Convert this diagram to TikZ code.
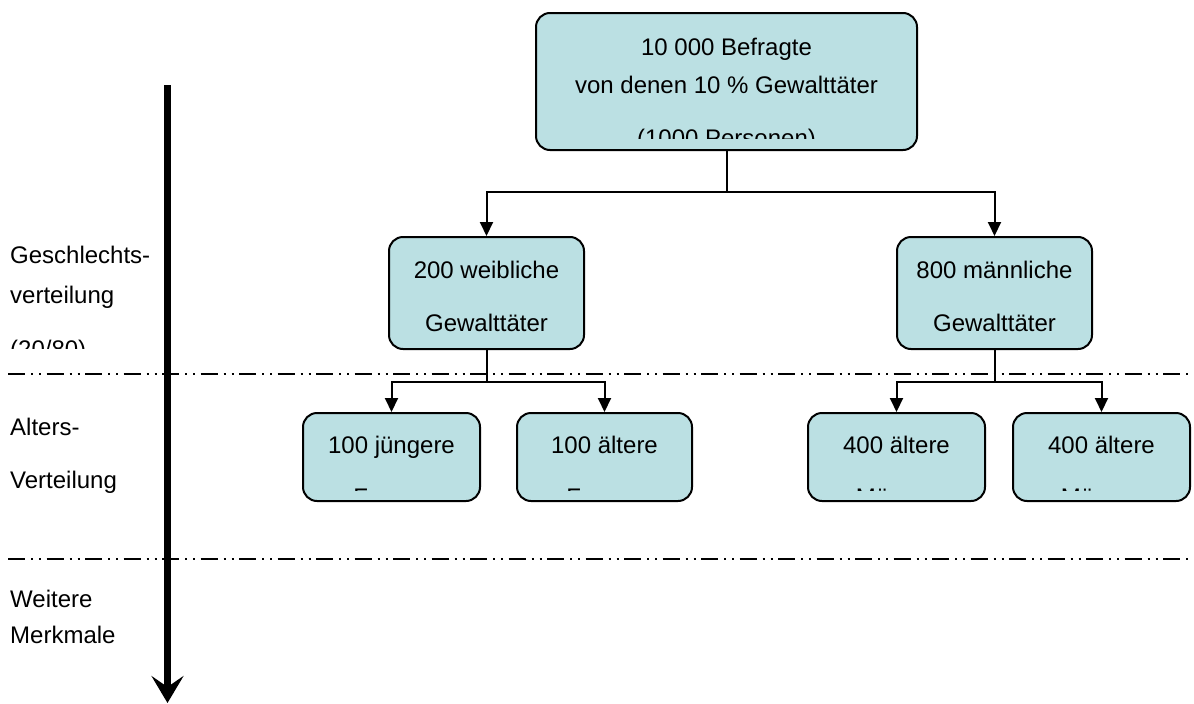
\documentclass[tikz,border=0pt]{standalone}
\usepackage{fontspec}
\setmainfont{Liberation Sans}
\usetikzlibrary{arrows.meta}
\definecolor{boxfill}{RGB}{187,224,227}
\begin{document}
\begin{tikzpicture}[x=1pt,y=-1pt,
 box/.style={draw=black, line width=2pt, fill=boxfill, rounded corners=14pt, inner sep=0pt},
 txt/.style={anchor=base, inner sep=0pt, font=\fontsize{24}{28}\selectfont},
 lbl/.style={anchor=base west, inner sep=0pt, font=\fontsize{24}{28}\selectfont},
 conn/.style={line width=2pt, -{Triangle[length=14pt,width=13pt]}},
 sep/.style={line width=2.2pt, dash pattern=on 17pt off 6pt on 2pt off 6pt on 2pt off 5.5pt},
 axisarrow/.style={line width=6.5pt, -{Stealth[length=27pt,width=32pt,inset=11pt]}}]
\useasboundingbox (0,0) rectangle (1194,704);

% separators
\coordinate (s1a) at (8,374);
\coordinate (s1b) at (1194,374);
\coordinate (s2a) at (8,559);
\coordinate (s2b) at (1194,559);
\draw[sep] (s1a) -- (s1b);
\draw[sep] (s2a) -- (s2b);

% axis arrow
\coordinate (ax0) at (167.5,85);
\coordinate (ax1) at (167.5,703);
\draw[axisarrow] (ax0) -- (ax1);

% boxes
\node[box, minimum width=381pt, minimum height=137pt] (top) at (726.5,81.5) {};
\node[box, minimum width=195pt, minimum height=112pt] (w) at (486.5,293) {};
\node[box, minimum width=195pt, minimum height=112pt] (m) at (994.5,293) {};
\node[box, minimum width=177pt, minimum height=88pt] (b1) at (391.5,457) {};
\node[box, minimum width=175pt, minimum height=88pt] (b2) at (604.5,457) {};
\node[box, minimum width=177pt, minimum height=88pt] (b3) at (896.5,457) {};
\node[box, minimum width=177pt, minimum height=88pt] (b4) at (1101.5,457) {};

% connectors
\draw[conn] (top.south) -- ++(0,41) -| (w.north);
\draw[conn] (top.south) -- ++(0,41) -| (m.north);
\draw[conn] (w.south) -- ++(0,32) -| (b1.north);
\draw[conn] (w.south) -- ++(0,32) -| (b2.north);
\draw[conn] (m.south) -- ++(0,32) -| (b3.north);
\draw[conn] (m.south) -- ++(0,32) -| (b4.north);

% top box text
\begin{scope}
\clip (536,13) rectangle (917,138);
\node[txt] (t1) at (726.5,55) {10 000 Befragte};
\node[txt] (t2) at (726.5,93) {von denen 10 \% Gewalttäter};
\node[txt] (t3) at (726.5,146.5) {(1000 Personen)};
\end{scope}

% second row text
\node[txt] (w1) at (486.5,278) {200 weibliche};
\node[txt] (w2) at (486.5,331) {Gewalttäter};
\node[txt] (m1) at (994.5,278) {800 männliche};
\node[txt] (m2) at (994.5,331) {Gewalttäter};

% third row text
\node[txt] (b1t) at (391.5,453) {100 jüngere};
\node[txt] (b2t) at (604.5,453) {100 ältere};
\node[txt] (b3t) at (896.5,453) {400 ältere};
\node[txt] (b4t) at (1101.5,453) {400 ältere};
\begin{scope}
\clip (300,413) rectangle (1194,490.5);
\node[txt] (b1u) at (391.5,505) {Frauen};
\node[txt] (b2u) at (604.5,505) {Frauen};
\node[txt] (b3u) at (896.5,505) {Männer};
\node[txt] (b4u) at (1101.5,505) {Männer};
\end{scope}

% left labels
\node[lbl] (g1) at (10,263) {Geschlechts-};
\node[lbl] (g2) at (10,303) {verteilung};
\begin{scope}
\clip (0,300) rectangle (160,348);
\node[lbl] (g3) at (10,357) {(20/80)};
\end{scope}
\node[lbl] (a1) at (10,435) {Alters-};
\node[lbl] (a2) at (10,488) {Verteilung};
\node[lbl] (r1) at (10,607) {Weitere};
\node[lbl] (r2) at (10,643) {Merkmale};
\end{tikzpicture}
\end{document}
